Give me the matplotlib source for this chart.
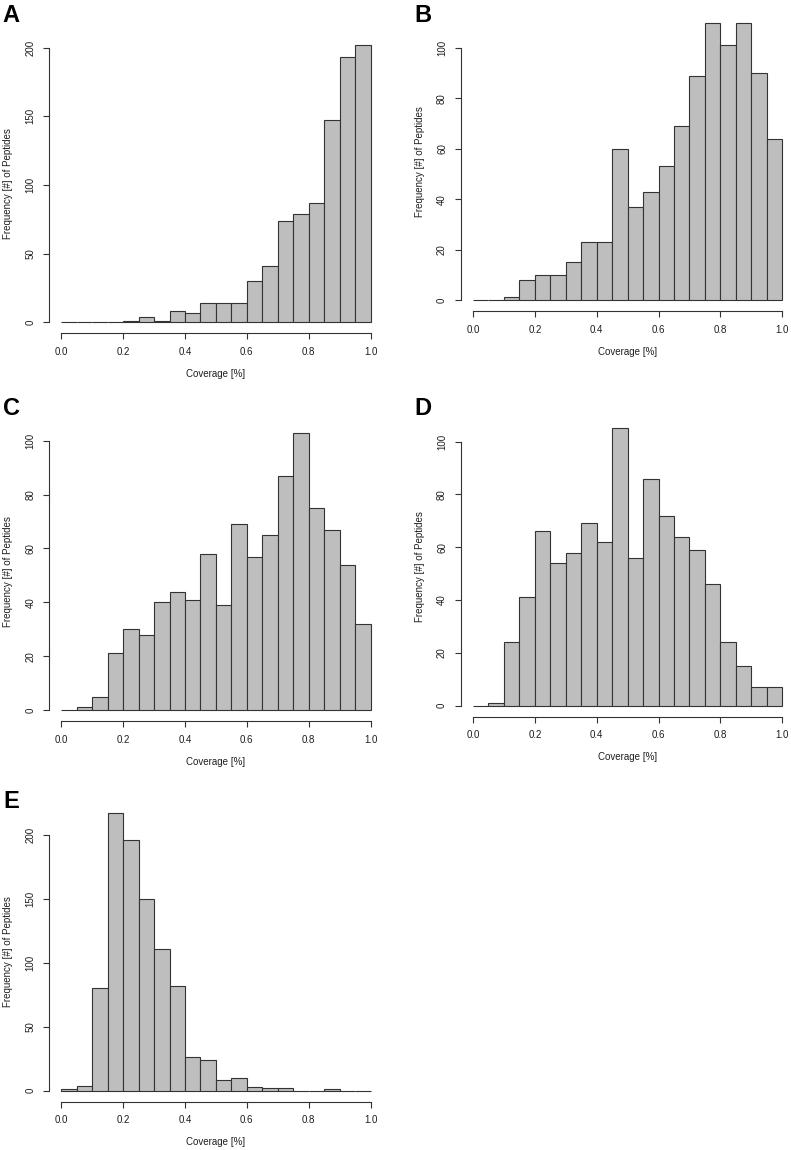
import numpy as np
import matplotlib
matplotlib.use("Agg")
import matplotlib.pyplot as plt

plt.rcParams["font.family"] = ["Liberation Sans", "DejaVu Sans"]

# coverage histograms, 20 bins of width 0.05 on [0, 1]
bin_edges = np.linspace(0.0, 1.0, 21)
counts_A = [0, 0, 0, 0, 1, 4, 1, 8, 7, 14, 14, 14, 30, 41, 74, 79, 87, 147, 193, 202]
counts_B = [0, 0, 1, 8, 10, 10, 15, 23, 23, 60, 37, 43, 53, 69, 89, 110, 101, 110, 90, 64]
counts_C = [0, 1, 5, 21, 30, 28, 40, 44, 41, 58, 39, 69, 57, 65, 87, 103, 75, 67, 54, 32]
counts_D = [0, 1, 24, 41, 66, 54, 58, 69, 62, 105, 56, 86, 72, 64, 59, 46, 24, 15, 7, 7]
counts_E = [1, 4, 80, 217, 196, 150, 111, 82, 26, 24, 8, 10, 3, 2, 2, 0, 0, 1, 0, 0]

yticks_A = [0, 50, 100, 150, 200]
yticks_B = [0, 20, 40, 60, 80, 100]
yticks_C = [0, 20, 40, 60, 80, 100]
yticks_D = [0, 20, 40, 60, 80, 100]
yticks_E = [0, 50, 100, 150, 200]
xticks = [0.0, 0.2, 0.4, 0.6, 0.8, 1.0]

XLAB = "Coverage [%]"
YLAB = "Frequency [#] of Peptides"

FW, FH = 791, 1150
W, H = 334.0, 299.5            # plot region in px
# (letter, counts, yticks, x of 0.0 in px, y of count 0 in px, letter x, letter baseline)
panels = [
    ("A", counts_A, yticks_A, 61.3, 322.3, 2, 21.7),
    ("B", counts_B, yticks_B, 473.0, 300.0, 414, 21.7),
    ("C", counts_C, yticks_C, 61.3, 710.0, 3, 415),
    ("D", counts_D, yticks_D, 473.0, 705.7, 414, 415),
    ("E", counts_E, yticks_E, 61.3, 1090.7, 3, 808),
]

fig = plt.figure(figsize=(FW / 100, FH / 100), dpi=100)
ink = "#1e1e1e"

for letter, counts, yt, x0, y0, lx, ly in panels:
    left = x0 - 0.04 / 1.08 * W
    bottom = y0 + 0.04 / 1.08 * H
    ax = fig.add_axes([left / FW, 1 - bottom / FH, W / FW, H / FH])
    ax.bar(bin_edges[:-1], counts, width=0.05, align="edge",
           color="#BEBEBE", edgecolor="#333333", linewidth=0.8)
    ymax = max(counts)
    ax.set_xlim(-0.04, 1.04)
    ax.set_ylim(-0.04 * ymax, 1.04 * ymax)
    for s in ("top", "right"):
        ax.spines[s].set_visible(False)
    ax.spines["left"].set_bounds(yt[0], yt[-1])
    ax.spines["bottom"].set_bounds(0, 1)
    for s in ("left", "bottom"):
        ax.spines[s].set_linewidth(0.8)
        ax.spines[s].set_color("#333333")
    ax.set_xticks(xticks)
    ax.set_xticklabels([f"{v:.1f}" for v in xticks])
    ax.set_yticks(yt)
    ax.set_yticklabels([str(v) for v in yt], rotation=90, va="center")
    ax.tick_params(length=4.3, width=0.8, color="#333333", labelsize=7,
                   labelcolor=ink, pad=5.5)
    ax.set_xlabel(XLAB, fontsize=7, color=ink)
    ax.set_ylabel(YLAB, fontsize=7, color=ink)
    ax.xaxis.label.set_va("center")
    ax.yaxis.label.set_va("center")
    ax.xaxis.set_label_coords(0.5, -40.6 / H)
    ax.yaxis.set_label_coords(-40.6 / W, 0.5)
    fig.text(lx / FW, 1 - ly / FH, letter, fontsize=17, fontweight="bold",
             ha="left", va="baseline")

fig.savefig("out.png", dpi=100)
